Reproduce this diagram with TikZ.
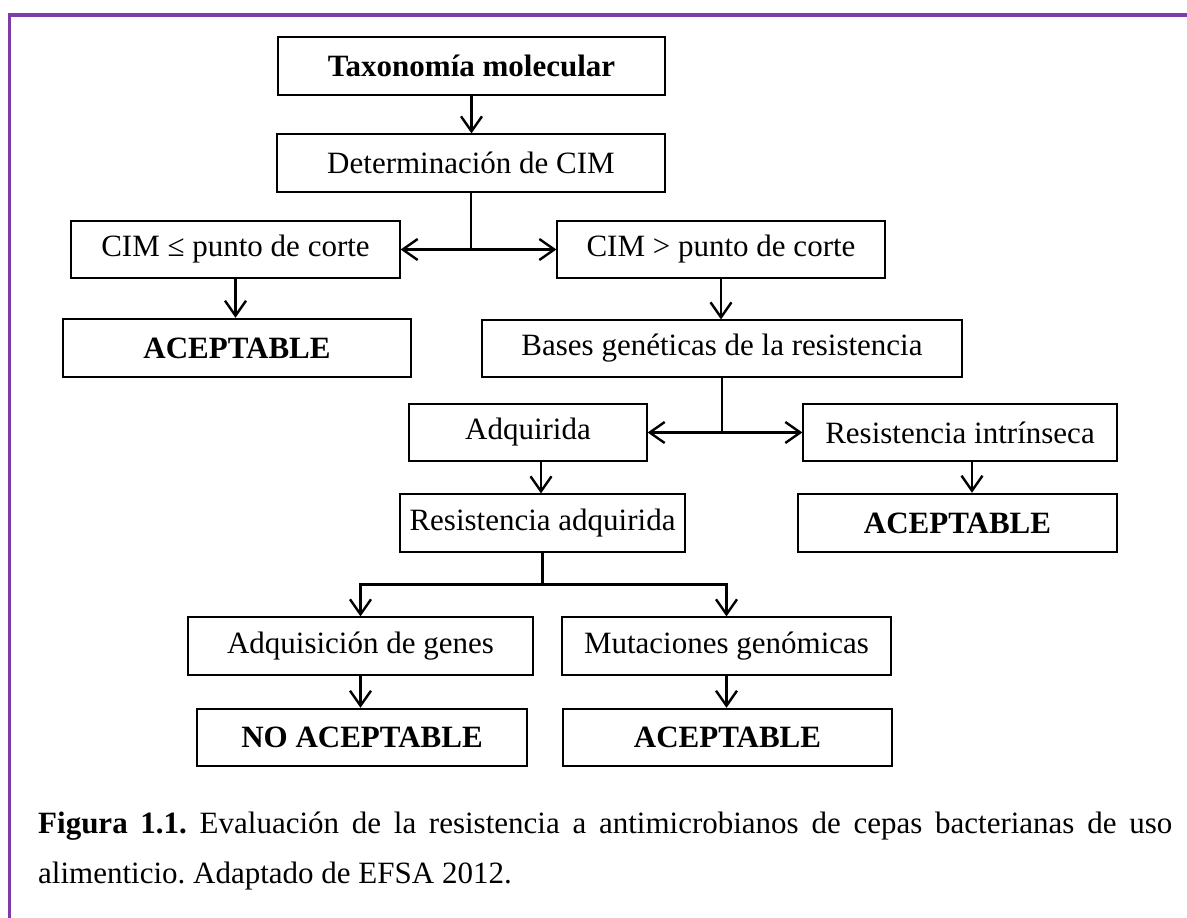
\documentclass[tikz,border=0pt]{standalone}
\usepackage{fontspec}
\setmainfont{Liberation Serif}
\usetikzlibrary{arrows.meta}
\definecolor{framepurple}{RGB}{125,60,170}
\newcommand\bx[7]{\node[#6, minimum width={#4-#2}, minimum height={#5-#3}] (#1) at ({(#2+#4)/2},{(#3+#5)/2}) {#7};}
\frenchspacing
\begin{document}
\begin{tikzpicture}[x=1pt,y=-1pt,
  box/.style={draw, line width=1.2pt, inner sep=0pt, font=\fontsize{31}{36}\selectfont},
  boldbox/.style={box, line width=2.4pt, font=\fontsize{31}{36}\selectfont\bfseries},
  conn/.style={line width=2.4pt},
  arr/.style={conn, -{Straight Barb[length=15pt,width=21pt]}},
  captext/.style={anchor=base west, inner sep=0pt, font=\fontsize{31}{50}\selectfont}
]
\useasboundingbox (0,0) rectangle (1187,918);
\draw[framepurple, line width=3.5pt] (9.5,918) -- (9.5,15) -- (1187,15);

\bx{tax}{278}{37}{665}{95}{boldbox}{Taxonomía molecular}
\bx{det}{277}{134}{665}{192}{box}{Determinación de CIM}
\bx{le}{71}{221}{400}{278}{box}{CIM ≤ punto de corte}
\bx{gt}{557}{221}{885}{278}{box}{CIM > punto de corte}
\bx{accA}{63}{319}{411}{377}{boldbox}{ACEPTABLE}
\bx{bases}{482}{320}{962}{377}{box}{Bases genéticas de la resistencia}
\bx{adq}{409}{404}{647}{461}{box}{Adquirida}
\bx{rint}{803}{404}{1117}{461}{box}{Resistencia intrínseca}
\bx{accB}{798}{494}{1117}{552}{boldbox}{ACEPTABLE}
\bx{radq}{400}{494}{685}{552}{box}{Resistencia adquirida}
\bx{gen}{188}{617}{533}{675}{box}{Adquisición de genes}
\bx{mut}{562}{617}{891}{675}{box}{Mutaciones genómicas}
\bx{noacc}{197}{709}{527}{766}{boldbox}{NO ACEPTABLE}
\bx{accC}{563}{709}{892}{766}{boldbox}{ACEPTABLE}

\draw[arr] (tax.south) -- (tax.south |- det.north);
\coordinate (j1) at (det.south |- le.east);
\draw[conn] (det.south) -- (j1);
\draw[arr] (j1) -- (le.east);
\draw[arr] (j1) -- (gt.west);
\draw[arr] (le.south) -- (le.south |- accA.north);
\draw[arr] (gt.south) -- (gt.south |- bases.north);
\coordinate (j2) at (bases.south |- adq.east);
\draw[conn] (bases.south) -- (j2);
\draw[arr] (j2) -- (adq.east);
\draw[arr] (j2) -- (rint.west);
\draw[arr] ([xshift=12pt]rint.south) -- ([xshift=12pt]rint.south |- accB.north);
\draw[arr] ([xshift=13pt]adq.south) -- ([xshift=13pt]adq.south |- radq.north);
\coordinate (j3) at ([yshift=-32pt]radq.south);
\draw[conn] (radq.south) -- (j3);
\draw[arr] (j3) -| (gen.north);
\draw[arr] (j3) -| (mut.north);
\draw[arr] (gen.south) -- (gen.south |- noacc.north);
\draw[arr] (mut.south) -- (mut.south |- accC.north);

\node[captext] (cap1) at (38,833) {\makebox[1134pt][s]{\textbf{Figura 1.1.} Evaluación de la resistencia a antimicrobianos de cepas bacterianas de uso}};
\node[captext] (cap2) at (38,883) {alimenticio. Adaptado de EFSA 2012.};
\end{tikzpicture}
\end{document}
